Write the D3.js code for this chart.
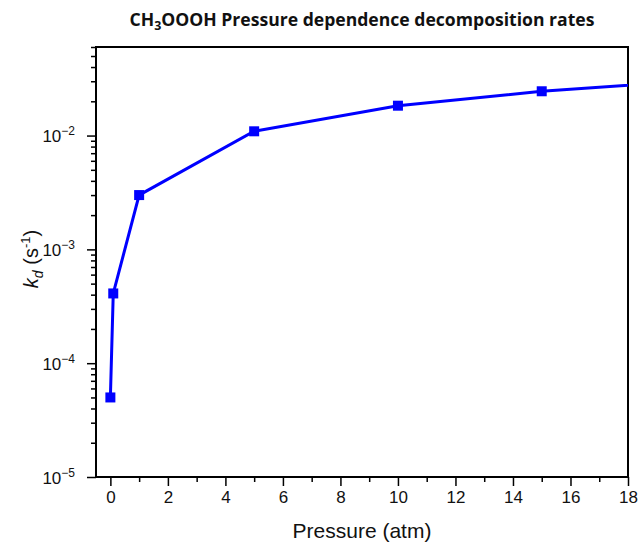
<!DOCTYPE html>
<html><head><meta charset="utf-8">
<script src="https://cdn.jsdelivr.net/npm/d3@7"></script>
<style>
body{margin:0;background:#fff;}
svg{display:block;}
</style></head>
<body>
<script>
// ---- data ----
const pressure = [0, 0.1, 1, 5, 10, 15, 20];
const rate = [5.0e-5, 4.1e-4, 3.0e-3, 1.09e-2, 1.83e-2, 2.45e-2, 3.0e-2];
const xMajorTicks = [0, 2, 4, 6, 8, 10, 12, 14, 16, 18];
const xMinorTicks = [1, 3, 5, 7, 9, 11, 13, 15, 17];
const yMajorTicks = [1e-5, 1e-4, 1e-3, 1e-2];
const yExponents = ["−5", "−4", "−3", "−2"];
const titleText = ["CH", "3", "OOOH Pressure dependence decomposition rates"];
const xLabel = "Pressure (atm)";

const W = 638, H = 544;
const m = {left: 96, right: 10, top: 47, bottom: 67};
const pw = W - m.left - m.right, ph = H - m.top - m.bottom;

const svg = d3.select("body").append("svg").attr("width", W).attr("height", H);

const x = d3.scaleLinear().domain([-0.5, 18]).range([m.left, m.left + pw]);
const y = d3.scaleLog().domain([1e-5, 0.06]).range([m.top + ph, m.top]);

// minor y ticks
const yMinor = [];
for (let e = -5; e <= -2; e++) for (let k = 2; k <= 9; k++) {
  const v = k * Math.pow(10, e);
  if (v <= 0.06 + 1e-9) yMinor.push(v);
}

const tickFont = "Liberation Sans, Arial, sans-serif";

// y axis
const gy = svg.append("g").attr("transform", `translate(${m.left},0)`);
gy.call(d3.axisLeft(y).tickValues(yMinor).tickSize(5).tickFormat(""));
gy.call(g => g.selectAll(".domain").remove());
const gy2 = svg.append("g").attr("transform", `translate(${m.left},0)`);
gy2.call(d3.axisLeft(y).tickValues(yMajorTicks).tickSize(9).tickPadding(12).tickFormat(""));
gy2.select(".domain").remove();
gy.selectAll("line").attr("stroke", "#000").attr("stroke-width", 1.5);
gy2.selectAll("line").attr("stroke", "#000").attr("stroke-width", 1.5);
gy2.selectAll(".tick").each(function(d, i) {
  const t = d3.select(this).append("text")
    .attr("x", -21).attr("y", 6)
    .attr("text-anchor", "end")
    .attr("fill", "#111")
    .style("font-family", tickFont).style("font-size", "17px");
  t.append("tspan").text("10");
  t.append("tspan").attr("dy", -7).style("font-size", "12px").text(yExponents[i]);
});

// x axis
const gx = svg.append("g").attr("transform", `translate(0,${m.top + ph})`);
gx.call(d3.axisBottom(x).tickValues(xMinorTicks).tickSize(5).tickFormat(""));
gx.select(".domain").remove();
const gx2 = svg.append("g").attr("transform", `translate(0,${m.top + ph})`);
gx2.call(d3.axisBottom(x).tickValues(xMajorTicks).tickSize(9).tickPadding(5).tickFormat(d3.format("d")));
gx2.select(".domain").remove();
gx.selectAll("line").attr("stroke", "#000").attr("stroke-width", 1.5);
gx2.selectAll("line").attr("stroke", "#000").attr("stroke-width", 1.5);
gx2.selectAll("text").style("font-family", tickFont).style("font-size", "17px").attr("fill", "#111");

// frame
svg.append("rect").attr("x", m.left).attr("y", m.top).attr("width", pw).attr("height", ph)
  .attr("fill", "none").attr("stroke", "#000").attr("stroke-width", 2);

// clip
svg.append("clipPath").attr("id", "clip").append("rect")
  .attr("x", m.left - 8).attr("y", m.top).attr("width", pw + 8).attr("height", ph + 8);

const pts = pressure.map((p, i) => [p, rate[i]]);
const plot = svg.append("g").attr("clip-path", "url(#clip)");
plot.append("path").datum(pts)
  .attr("fill", "none").attr("stroke", "#0000ff").attr("stroke-width", 3)
  .attr("d", d3.line().x(d => x(d[0])).y(d => y(d[1])));
plot.selectAll("rect.pt").data(pts.filter(d => d[0] <= 18)).enter().append("rect")
  .attr("class", "pt")
  .attr("x", d => x(d[0]) - 5).attr("y", d => y(d[1]) - 5)
  .attr("width", 10).attr("height", 10).attr("fill", "#0000ff");

// title
const title = svg.append("text").attr("x", m.left + pw / 2).attr("y", 26)
  .attr("text-anchor", "middle")
  .style("font-family", "Open Sans, Lato, sans-serif").style("font-weight", "bold")
  .style("font-size", "17px").attr("fill", "#111");
title.append("tspan").text(titleText[0]);
title.append("tspan").attr("dy", 4).style("font-size", "12px").text(titleText[1]);
title.append("tspan").attr("dy", -4).text(titleText[2]);
const tw = title.node().getComputedTextLength();
if (Math.abs(tw - 465) > 4) title.attr("textLength", 465).attr("lengthAdjust", "spacingAndGlyphs");

// x label
svg.append("text").attr("x", m.left + pw / 2).attr("y", 538)
  .attr("text-anchor", "middle")
  .style("font-family", tickFont).style("font-size", "21px").attr("fill", "#111")
  .text(xLabel);

// y label
const yl = svg.append("text")
  .attr("transform", `translate(38,${m.top + ph / 2 - 3}) rotate(-90)`)
  .attr("text-anchor", "middle")
  .style("font-family", tickFont).style("font-size", "20px").attr("fill", "#111");
yl.append("tspan").style("font-style", "italic").text("k");
yl.append("tspan").attr("dy", 5).style("font-style", "italic").style("font-size", "14px").text("d");
yl.append("tspan").attr("dy", -5).text(" (s");
yl.append("tspan").attr("dy", -8).style("font-size", "13px").text("-1");
yl.append("tspan").attr("dy", 8).text(")");
</script>
</body></html>
